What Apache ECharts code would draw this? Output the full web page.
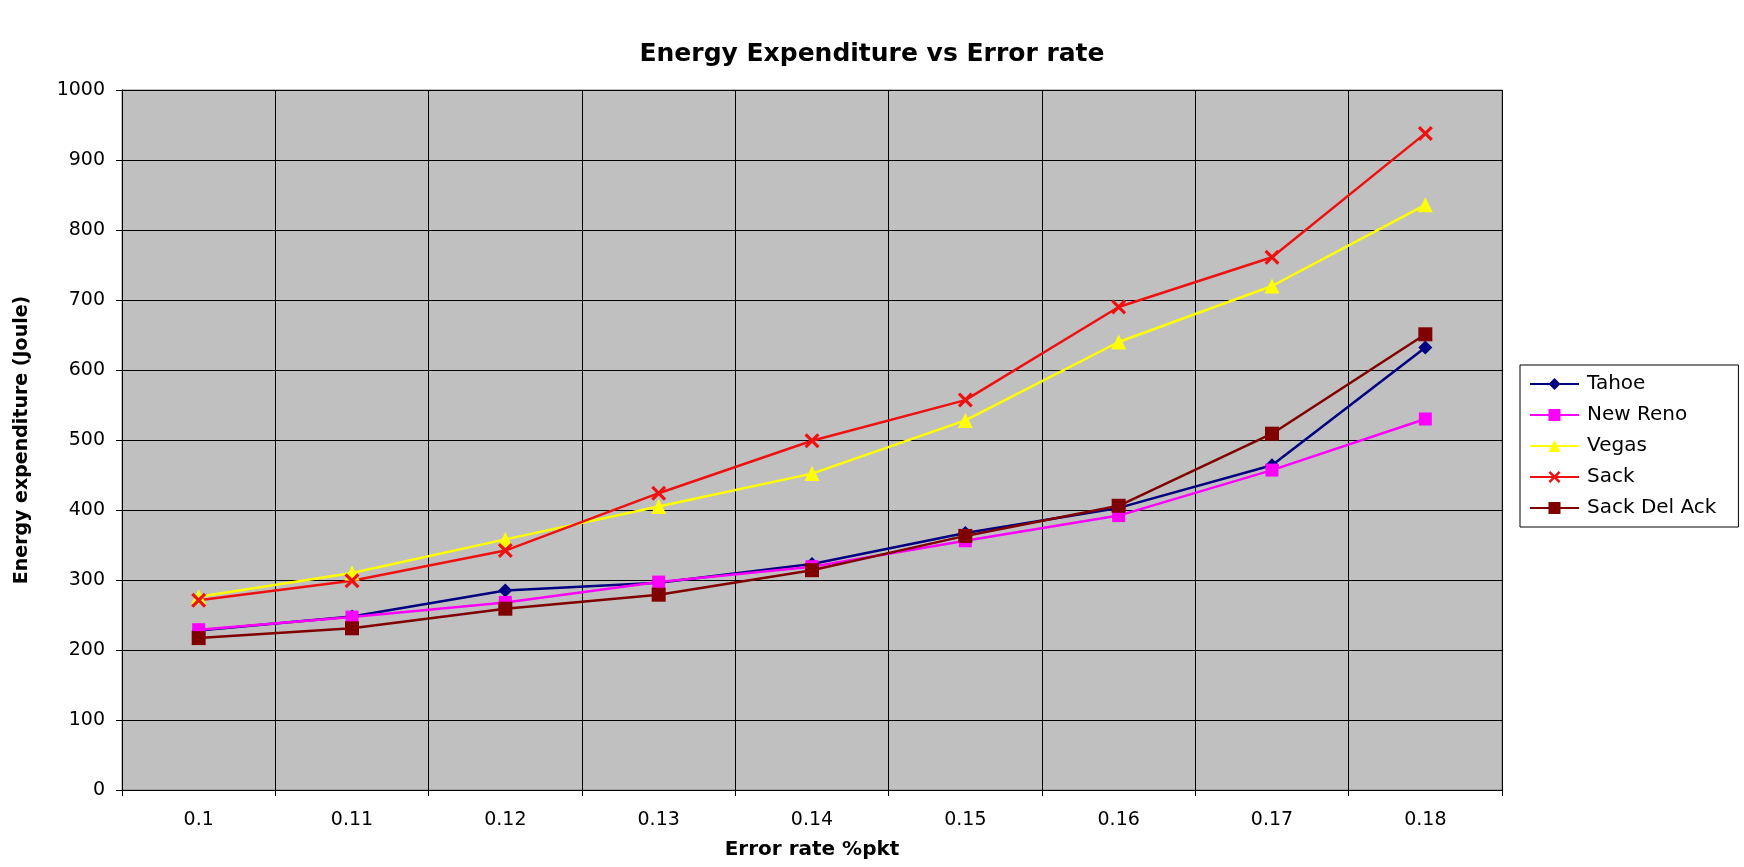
<!DOCTYPE html>
<html>
<head>
<meta charset="utf-8">
<script src="https://cdn.jsdelivr.net/npm/echarts@6/dist/echarts.min.js"></script>
<style>
html,body{margin:0;padding:0;background:#fff;}
#chart{width:1744px;height:867px;}
</style>
</head>
<body>
<div id="chart"></div>
<script>
const categories = ['0.1','0.11','0.12','0.13','0.14','0.15','0.16','0.17','0.18'];
const tahoe      = [228, 248, 285, 296, 323, 367, 403, 464, 632];
const newReno    = [229, 247, 268, 297, 319, 356, 392, 457, 530];
const vegas      = [276, 310, 358, 405, 452, 528, 640, 720, 836];
const sack       = [271, 299, 342, 424, 499, 557, 690, 761, 938];
const sackDelAck = [217, 231, 259, 279, 314, 363, 406, 509, 651];

const FONT = 'DejaVu Sans';
const X_PATH = 'path://M0,1.5L1.5,0L5,3.5L8.5,0L10,1.5L6.5,5L10,8.5L8.5,10L5,6.5L1.5,10L0,8.5L3.5,5Z';

function mk(name, data, color, symbol, size) {
  return {
    name: name, type: 'line', data: data,
    symbol: symbol, symbolSize: size,
    lineStyle: {color: color, width: 2.5},
    itemStyle: {color: color},
    emphasis: {disabled: true},
    animation: false
  };
}

const chart = echarts.init(document.getElementById('chart'), null, {renderer: 'canvas'});
chart.setOption({
  backgroundColor: '#ffffff',
  animation: false,
  title: {
    text: 'Energy Expenditure vs Error rate',
    left: 'center', top: 37,
    textStyle: {fontFamily: FONT, fontWeight: 'bold', fontSize: 25, color: '#000'}
  },
  legend: {
    orient: 'vertical',
    left: 1520, top: 365,
    padding: [9, 22, 9, 9],
    itemWidth: 49, itemHeight: 15,
    itemGap: 11,
    borderColor: '#000', borderWidth: 1,
    textStyle: {fontFamily: FONT, fontSize: 20, color: '#000', padding: [0,0,0,3]},
    data: ['Tahoe', 'New Reno', 'Vegas', 'Sack', 'Sack Del Ack']
  },
  grid: {
    left: 122, right: 242, top: 90, bottom: 77,
    show: true, backgroundColor: '#C0C0C0', borderColor: '#808080', borderWidth: 1
  },
  xAxis: {
    type: 'category', data: categories, boundaryGap: true,
    name: 'Error rate %pkt', nameLocation: 'middle', nameGap: 50,
    nameTextStyle: {fontFamily: FONT, fontWeight: 'bold', fontSize: 20, color: '#000'},
    axisLine: {show: true, lineStyle: {color: '#000', width: 1}},
    axisTick: {show: true, length: 6, alignWithLabel: false, interval: 0, lineStyle: {color: '#000'}},
    axisLabel: {fontFamily: FONT, fontSize: 19, color: '#000', margin: 21, interval: 0},
    splitLine: {show: true, interval: 0, lineStyle: {color: '#000', width: 1}}
  },
  yAxis: {
    type: 'value', min: 0, max: 1000, interval: 100,
    name: 'Energy expenditure (Joule)', nameLocation: 'middle', nameGap: 90,
    nameTextStyle: {fontFamily: FONT, fontWeight: 'bold', fontSize: 19, color: '#000'},
    axisLine: {show: true, lineStyle: {color: '#000', width: 1}},
    axisTick: {show: true, length: 6, lineStyle: {color: '#000'}},
    axisLabel: {fontFamily: FONT, fontSize: 19, color: '#000', margin: 17, formatter: function (v) { return String(v); }},
    splitLine: {show: true, lineStyle: {color: '#000', width: 1}}
  },
  series: [
    mk('Tahoe', tahoe, '#000080', 'diamond', 14),
    mk('New Reno', newReno, '#FF00FF', 'rect', 13),
    mk('Vegas', vegas, '#FFFF00', 'triangle', 15),
    mk('Sack', sack, '#EE1111', X_PATH, 15),
    mk('Sack Del Ack', sackDelAck, '#800000', 'rect', 14)
  ]
});
</script>
</body>
</html>
